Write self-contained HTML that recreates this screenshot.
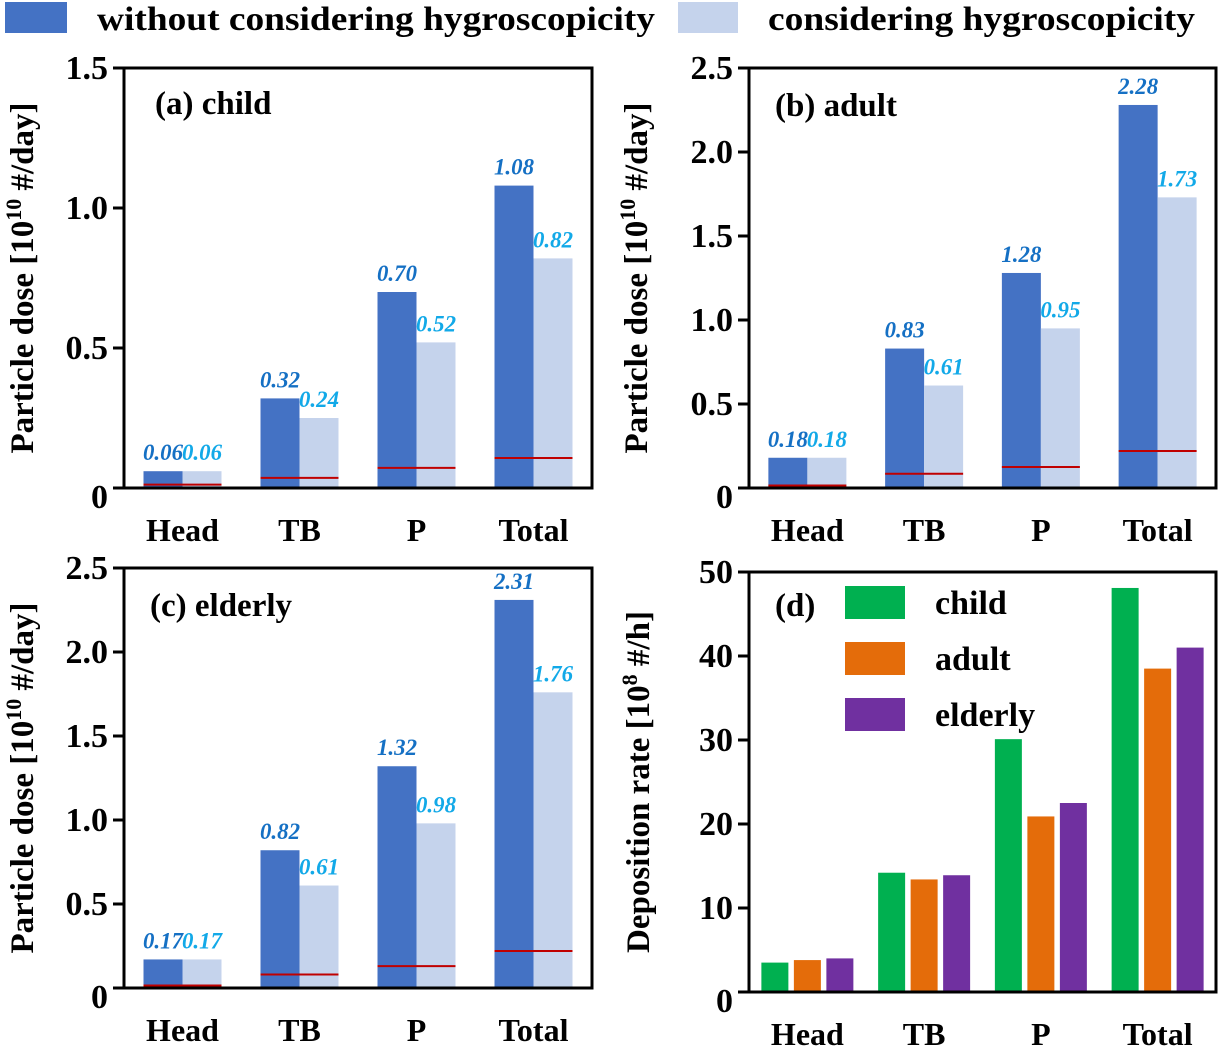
<!DOCTYPE html>
<html><head><meta charset="utf-8">
<style>
html,body{margin:0;padding:0;background:#fff;}
svg, svg text{font-family:"Liberation Serif","DejaVu Serif","Times New Roman",serif !important;font-weight:bold;}
</style></head>
<body>
<svg id="chart" width="1222" height="1047" viewBox="0 0 1222 1047" xmlns="http://www.w3.org/2000/svg" font-family="Liberation Serif, DejaVu Serif, serif" font-weight="bold">
  <g>
    <rect x="5" y="2" width="62" height="31" fill="#4472C4"/>
    <text x="97" y="30" font-size="34" textLength="558" lengthAdjust="spacingAndGlyphs">without considering hygroscopicity</text>
    <rect x="678" y="2" width="60" height="31" fill="#C5D3EC"/>
    <text x="768" y="30" font-size="34" textLength="427" lengthAdjust="spacingAndGlyphs">considering hygroscopicity</text>
  </g>
</svg>
<script>
const categories = ["Head","TB","P","Total"];
const childWithout = [0.06,0.32,0.70,1.08];
const childWith = [0.06,0.25,0.52,0.82];
const childWithLabels = ["0.06","0.24","0.52","0.82"];
const childRed = [0.012,0.036,0.072,0.107];
const adultWithout = [0.18,0.83,1.28,2.28];
const adultWith = [0.18,0.61,0.95,1.73];
const adultRed = [0.015,0.085,0.125,0.22];
const elderlyWithout = [0.17,0.82,1.32,2.31];
const elderlyWith = [0.17,0.61,0.98,1.76];
const elderlyRed = [0.015,0.08,0.13,0.22];
const ticksAC = [0,0.5,1.0,1.5];
const ticksAClabels = ["0","0.5","1.0","1.5"];
const ticksBC = [0,0.5,1.0,1.5,2.0,2.5];
const ticksBClabels = ["0","0.5","1.0","1.5","2.0","2.5"];
const rateChild = [3.5,14.2,30.1,48.1];
const rateAdult = [3.8,13.4,20.9,38.5];
const rateElderly = [4.0,13.9,22.5,41.0];
const ticksD = [0,10,20,30,40,50];
const ticksDlabels = ["0","10","20","30","40","50"];

const svg = document.getElementById('chart');
const NS = "http://www.w3.org/2000/svg";
function mk(tag, attrs, parent){
  const e = document.createElementNS(NS, tag);
  for (const k in attrs) e.setAttribute(k, attrs[k]);
  (parent||svg).appendChild(e);
  return e;
}

function frame(g, L, T, R, B, ymax, ticks, tlabels, title, titleX, catY){
  const y = v => B - (B - T) * v / ymax;
  ticks.forEach((t,i)=>{
    const tk = mk('line',{x1:L-11,x2:L,y1:y(t),y2:y(t),stroke:'#000','stroke-width':3},g);
    
    
    const tl = mk('text',{x:L-16,y:y(t)+(t===0?20:11),'font-size':34,'text-anchor':'end'},g);
    
    
    tl.textContent = tlabels[i];
  });
  const cy = (T+B)/2;
  const tt = mk('text',{x:titleX,y:cy,'font-size':33,'text-anchor':'middle',transform:`rotate(-90 ${titleX} ${cy})`,dy:11},g);
  
  
  tt.innerHTML = title;
  const step = (R-L)/4;
  categories.forEach((c,i)=>{
    const cl = mk('text',{x:L+step*(i+0.5),y:catY,'font-size':32,'text-anchor':'middle'},g);
    
    
    cl.textContent = c;
  });
  return y;
}

function box(g,L,T,R,B){
  const b = mk('rect',{x:L,y:T,width:R-L,height:B-T,fill:'none',stroke:'#000','stroke-width':3},g);
  
  
}

function dosePanel(name, L, T, R, B, ymax, ticks, tl, w, wo, woLabels, red, label, lx, ly, titleX, catY){
  const g = mk('g',{});
  
  
  const y = frame(g,L,T,R,B,ymax,ticks,tl,'Particle dose [10<tspan font-size="22" dy="-12">10</tspan><tspan dy="12"> #/day]</tspan>',titleX,catY);
  const step = (R-L)/4, bw = 39;
  categories.forEach((c,i)=>{
    const cx = L + step*(i+0.5);
    const r1 = mk('rect',{x:cx-bw,y:y(w[i]),width:bw,height:B-y(w[i]),fill:'#4472C4'},g);
    
    
    const r2 = mk('rect',{x:cx,y:y(wo[i]),width:bw,height:B-y(wo[i]),fill:'#C5D3EC'},g);
    
    
    const rl = mk('line',{x1:cx-bw,x2:cx+bw,y1:y(red[i]),y2:y(red[i]),stroke:'#C00000','stroke-width':2},g);
    
    
    const t1 = mk('text',{x:cx-bw/2-20,y:y(w[i])-11,'font-size':23,'font-style':'italic',fill:'#1570C4',textLength:40,lengthAdjust:'spacingAndGlyphs'},g);
    
    
    t1.textContent = w[i].toFixed(2);
    const t2 = mk('text',{x:cx+bw/2-20,y:y(wo[i])-11,'font-size':23,'font-style':'italic',fill:'#12A9E8',textLength:40,lengthAdjust:'spacingAndGlyphs'},g);
    
    
    t2.textContent = woLabels ? woLabels[i] : wo[i].toFixed(2);
  });
  box(g,L,T,R,B);
  const pl = mk('text',{x:lx,y:ly,'font-size':33},g);
  
  
  pl.textContent = label;
}

dosePanel('panel-a-child',124,68,592,488,1.5,ticksAC,ticksAClabels,childWithout,childWith,childWithLabels,childRed,'(a) child',155,114,22,541);
dosePanel('panel-b-adult',749,68,1216,488,2.5,ticksBC,ticksBClabels,adultWithout,adultWith,null,adultRed,'(b) adult',775,116,636,541);
dosePanel('panel-c-elderly',124,568,592,988,2.5,ticksBC,ticksBClabels,elderlyWithout,elderlyWith,null,elderlyRed,'(c) elderly',150,616,22,1041);

(function(){
  const L=749,T=572,R=1216,B=992;
  const g = mk('g',{});
  
  
  const y = frame(g,L,T,R,B,50,ticksD,ticksDlabels,'Deposition rate [10<tspan font-size="22" dy="-12">8</tspan><tspan dy="12"> #/h]</tspan>',638,1045);
  const step=(R-L)/4, bw=27, gap=32.5;
  const series=[[rateChild,'#00B050','child'],[rateAdult,'#E46C0A','adult'],[rateElderly,'#7030A0','elderly']];
  categories.forEach((c,i)=>{
    const cx = L+step*(i+0.5);
    series.forEach((s,j)=>{
      const x = cx + (j-1)*gap - bw/2;
      const r = mk('rect',{x:x,y:y(s[0][i]),width:bw,height:B-y(s[0][i]),fill:s[1]},g);
      
      
    });
  });
  box(g,L,T,R,B);
  const pl = mk('text',{x:775,y:616,'font-size':33},g);
  
  
  pl.textContent='(d)';
  series.forEach((s,j)=>{
    const sw = mk('rect',{x:845,y:586+56*j,width:60,height:33,fill:s[1]},g);
    
    
    const lt = mk('text',{x:935,y:614+56*j,'font-size':34},g);
    
    
    lt.textContent=s[2];
  });
})();
</script>
</body></html>
